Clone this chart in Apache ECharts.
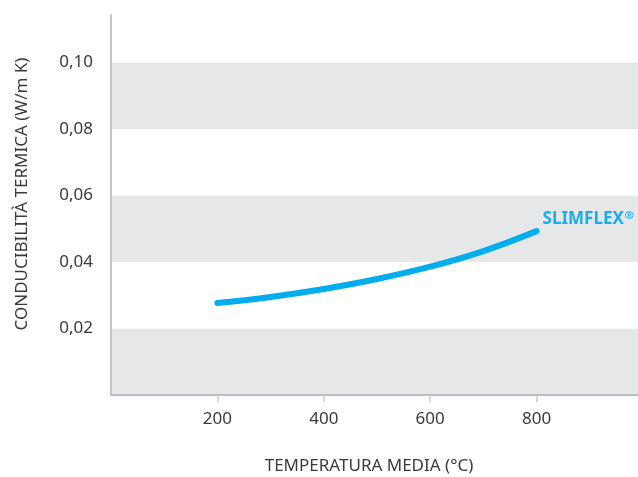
<!DOCTYPE html>
<html>
<head>
<meta charset="utf-8">
<script src="https://cdn.jsdelivr.net/npm/echarts@6/dist/echarts.min.js"></script>
<style>html,body{margin:0;padding:0;background:#fff}#c{width:638px;height:477px}</style>
</head>
<body>
<div id="c"></div>
<script>
const temperatures = [200, 300, 400, 500, 600, 700, 800];
const conductivity = [0.0277, 0.0295, 0.0319, 0.0349, 0.0386, 0.0433, 0.0493];
const seriesName = 'SLIMFLEX';
const xAxisTitle = 'TEMPERATURA MEDIA (°C)';
const yAxisTitle = 'CONDUCIBILITÀ TERMICA (W/m K)';

const chart = echarts.init(document.getElementById('c'));
const font = '"Noto Sans", sans-serif';
chart.setOption({
  animation: false,
  grid: {left: 111, right: -5, top: 15, bottom: 82, outerBoundsMode: 'none', containLabel: false},
  xAxis: {
    type: 'value', min: 0, max: 1000, interval: 200,
    name: xAxisTitle, nameLocation: 'middle', nameGap: 63,
    nameTextStyle: {fontFamily: font, fontSize: 17, color: '#3a3a3a', padding: [0, 16, 0, 0]},
    axisLine: {show: true, onZero: false, lineStyle: {color: '#bdbdbd', width: 2}},
    axisTick: {show: true, length: 7, lineStyle: {color: '#c8c8c8', width: 1.5}},
    axisLabel: {showMinLabel: false, showMaxLabel: false, margin: 16, fontFamily: font, fontSize: 17, color: '#3a3a3a'},
    splitLine: {show: false}
  },
  yAxis: {
    type: 'value', min: 0, max: 0.1143, interval: 0.02,
    name: yAxisTitle, nameLocation: 'middle', nameGap: 80, nameRotate: 90,
    nameTextStyle: {fontFamily: font, fontSize: 17, color: '#3a3a3a', padding: [0, 0, 0, 22]},
    axisLine: {show: true, lineStyle: {color: '#c4c4c4', width: 2}},
    axisTick: {show: false},
    axisLabel: {showMinLabel: false, showMaxLabel: false, margin: 18, fontFamily: font, fontSize: 17, color: '#3a3a3a',
      formatter: v => v.toFixed(2).replace('.', ',')},
    splitLine: {show: false},
    splitArea: {show: true, areaStyle: {color: ['#e6e7e8', '#ffffff']}}
  },
  series: [{
    type: 'line', name: seriesName, smooth: 0.4, symbol: 'none',
    data: temperatures.map((t, i) => [t, conductivity[i]]),
    lineStyle: {color: '#00aeef', width: 6, cap: 'round'},
    endLabel: {show: true, formatter: '{a|' + seriesName + '}{r|®}', distance: 6, offset: [0, -12],
      rich: {
        a: {fontFamily: font, fontWeight: 'bold', fontSize: 17, color: '#1aaee8'},
        r: {fontFamily: font, fontWeight: 'bold', fontSize: 11, color: '#1aaee8', verticalAlign: 'top', padding: [0, 0, 6, 1]}
      }}
  }]
});
</script>
</body>
</html>
